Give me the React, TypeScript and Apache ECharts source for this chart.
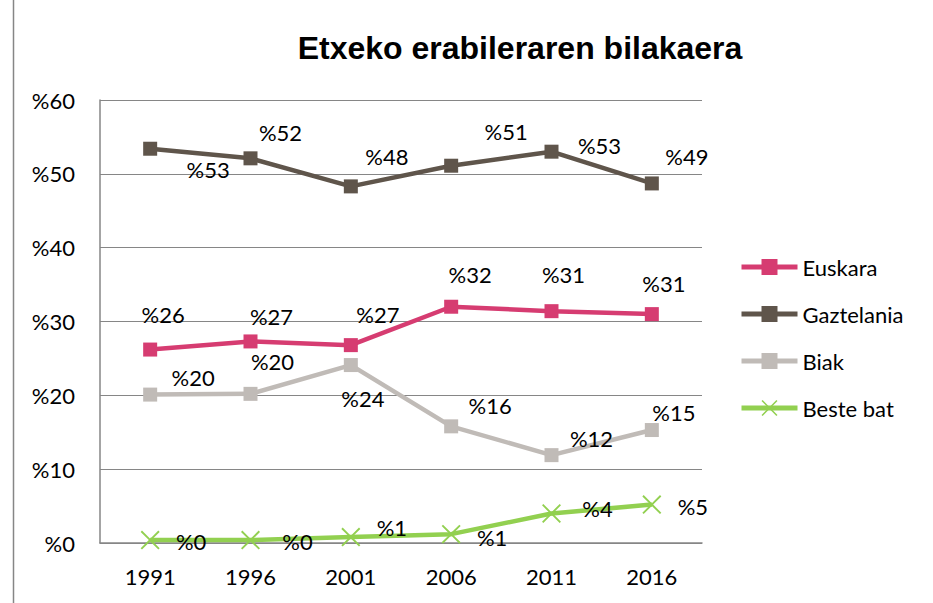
import React, { useEffect, useRef } from "react";
import * as echarts from "echarts";

const years = ["1991", "1996", "2001", "2006", "2011", "2016"];
const seriesNames = ["Euskara", "Gaztelania", "Biak", "Beste bat"];
const euskara = [26.2, 27.3, 26.8, 32.0, 31.4, 31.0];
const gaztelania = [53.4, 52.1, 48.3, 51.1, 53.0, 48.7];
const biak = [20.1, 20.2, 24.1, 15.8, 11.9, 15.3];
const besteBat = [0.4, 0.4, 0.8, 1.2, 4.0, 5.2];
const yMin = 0;
const yMax = 60;
const yStep = 10;
const titleText = "Etxeko erabileraren bilakaera";

// label offsets (layout only)
const euskaraOff = [[13, -35], [21, -25], [27, -31], [19, -32], [12, -37], [12, -31]];
const gaztelaniaOff = [[58, 21], [30, -26], [36, -30], [55, -34], [48, -6], [35, -27]];
const biakOff = [[43, -17], [22, -32], [12, 33], [39, -21], [40, -17], [22, -18]];
const besteOff = [[41, 1], [47, 1], [41, -10], [41, 3], [46, -5], [41, 2]];

const FONT = "Lato";
const FS = 22;
const XPATH =
  "path://M0,0.7L0.7,0L5,4.3L9.3,0L10,0.7L5.7,5L10,9.3L9.3,10L5,5.7L0.7,10L0,9.3L4.3,5Z";

function makeSeries(name: string, values: number[], offs: number[][], color: string, symbol: string, symbolSize: number) {
  return {
    name,
    type: "line",
    data: values.map((v, i) => ({ value: v, label: { offset: offs[i] } })),
    symbol,
    symbolSize,
    showAllSymbol: true,
    lineStyle: { color, width: 4.5 },
    itemStyle: { color },
    label: {
      show: true,
      position: "inside",
      formatter: (p: any) => "%" + Math.round(p.value),
      color: "#000",
      fontFamily: FONT,
      fontSize: FS,
    },
    emphasis: { disabled: true },
  };
}

export default function App() {
  const ref = useRef<HTMLDivElement>(null);
  useEffect(() => {
    if (!ref.current) return;
    const chart = echarts.init(ref.current, undefined, { renderer: "svg" });
    chart.setOption({
      animation: false,
      backgroundColor: "#fff",
      textStyle: { fontFamily: FONT },
      grid: { left: 100, right: 231, top: 100, bottom: 60 },
      xAxis: {
        type: "category",
        data: years,
        boundaryGap: true,
        axisLine: { lineStyle: { color: "#868686", width: 1.5 } },
        axisTick: { show: false },
        axisLabel: { color: "#000", fontSize: FS, fontFamily: FONT, margin: 22 },
      },
      yAxis: {
        type: "value",
        min: yMin,
        max: yMax,
        interval: yStep,
        axisLine: { show: true, lineStyle: { color: "#868686", width: 1.5 } },
        axisTick: { show: false },
        splitLine: { lineStyle: { color: "#868686", width: 1 } },
        axisLabel: {
          color: "#000",
          fontSize: FS,
          fontFamily: FONT,
          margin: 25,
          formatter: (v: number) => "%" + v,
        },
      },
      legend: {
        data: seriesNames,
        orient: "vertical",
        left: 734,
        top: 251,
        itemWidth: 56,
        itemHeight: 20,
        itemGap: 25,
        lineStyle: { width: 5 },
        textStyle: { color: "#000", fontSize: FS, fontFamily: FONT },
      },
      graphic: [
        {
          type: "text",
          x: 520,
          y: 48,
          style: {
            text: titleText,
            font: "bold 32px 'Liberation Sans', Arial, sans-serif",
            fill: "#000",
            textAlign: "center",
            textVerticalAlign: "middle",
          },
        },
        {
          type: "line",
          shape: { x1: 13.5, y1: 0, x2: 13.5, y2: 603 },
          style: { stroke: "#868686", lineWidth: 1.5 },
        },
      ],
      series: [
        makeSeries(seriesNames[0], euskara, euskaraOff, "#d63c71", "rect", 14),
        makeSeries(seriesNames[1], gaztelania, gaztelaniaOff, "#5f554b", "rect", 14),
        makeSeries(seriesNames[2], biak, biakOff, "#c0bbb7", "rect", 14),
        makeSeries(seriesNames[3], besteBat, besteOff, "#92d050", XPATH, 19),
      ],
    });
    return () => chart.dispose();
  }, []);
  return (
    <div
      ref={ref}
      style={{ position: "absolute", left: 0, top: 0, width: 933, height: 603 }}
    />
  );
}
